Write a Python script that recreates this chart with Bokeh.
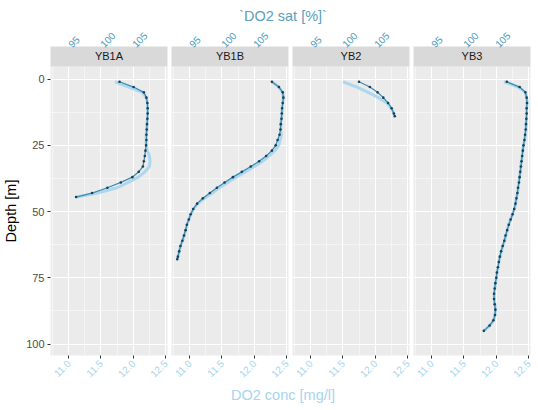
import math
from bokeh.plotting import figure
from bokeh.models import Range1d, LinearAxis, FixedTicker, PrintfTickFormatter, ColumnDataSource
from bokeh.layouts import column, row
from bokeh.embed import file_html
from bokeh.resources import INLINE
from bokeh.core.properties import value

# ---------------- data ----------------
stations = ["YB1A", "YB1B", "YB2", "YB3"]

depth_yb1a = [1, 3, 5, 7, 9, 11, 13, 15, 17, 19, 21, 23, 25, 27, 29, 31, 33, 35, 37, 39, 41, 43, 44.5]
sat_yb1a = [102.8, 105.0, 106.6, 107.0, 107.15, 107.2, 107.2, 107.15, 107.1, 107.05, 107.0, 107.0,
            106.95, 106.85, 106.75, 106.6, 106.45, 105.8, 104.8, 103.0, 100.9, 98.5, 96.0]
conc_yb1a = [11.72, 11.93, 12.14, 12.20, 12.22, 12.22, 12.22, 12.22, 12.21, 12.21, 12.20, 12.20,
             12.20, 12.22, 12.25, 12.26, 12.25, 12.18, 12.08, 11.92, 11.75, 11.45, 11.12]

depth_yb1b = [1, 3, 5, 7, 9, 11, 13, 15, 17, 19, 21, 23, 25, 27, 29, 31, 33, 35, 37, 39, 41, 43,
              45, 47, 49, 51, 53, 55, 57, 59, 61, 63, 65, 67, 68]
sat_yb1b = [107.7, 108.8, 109.4, 109.5, 109.4, 109.3, 109.25, 109.2, 109.1, 109.05, 108.9, 108.6,
            108.3, 107.7, 106.8, 105.7, 104.4, 103.0, 101.6, 100.3, 99.1, 98.0, 96.9, 96.0, 95.4,
            95.0, 94.7, 94.4, 94.2, 93.95, 93.7, 93.4, 93.2, 93.0, 92.9]
conc_yb1b = [12.27, 12.38, 12.44, 12.45, 12.44, 12.43, 12.43, 12.42, 12.41, 12.41, 12.42, 12.40,
             12.38, 12.32, 12.23, 12.13, 12.00, 11.86, 11.72, 11.59, 11.46, 11.35, 11.23, 11.13,
             11.06, 11.02, 10.99, 10.96, 10.94, 10.92, 10.89, 10.86, 10.84, 10.82, 10.81]

depth_yb2 = [1, 3, 5, 7, 9, 11, 13, 14]
sat_yb2 = [102.4, 104.1, 105.3, 106.2, 106.95, 107.5, 107.85, 108.0]
conc_yb2 = [11.50, 11.72, 11.89, 12.05, 12.18, 12.25, 12.29, 12.30]

depth_yb3 = [1, 3, 5, 7, 9, 11, 13, 15, 17, 19, 21, 23, 25, 27, 29, 31, 33, 35, 37, 39, 41, 43,
             45, 47, 49, 51, 53, 55, 57, 59, 61, 63, 65, 67, 69, 71, 73, 75, 77, 79, 81, 83, 85,
             87, 89, 91, 93, 95]
sat_yb3 = [106.6, 108.6, 109.5, 109.7, 109.75, 109.7, 109.7, 109.65, 109.6, 109.55, 109.45, 109.35,
           109.2, 109.1, 109.0, 108.9, 108.8, 108.7, 108.6, 108.5, 108.35, 108.25, 108.1, 107.95,
           107.75, 107.5, 107.2, 106.9, 106.65, 106.4, 106.2, 105.95, 105.7, 105.5, 105.35, 105.2,
           105.05, 104.95, 104.8, 104.7, 104.6, 104.6, 104.7, 104.8, 104.75, 104.5, 103.9, 103.0]
conc_yb3 = [12.12, 12.34, 12.45, 12.47, 12.48, 12.47, 12.47, 12.47, 12.46, 12.46, 12.45, 12.44,
            12.42, 12.41, 12.40, 12.39, 12.38, 12.37, 12.36, 12.35, 12.34, 12.33, 12.31, 12.30,
            12.28, 12.25, 12.22, 12.19, 12.17, 12.15, 12.13, 12.10, 12.08, 12.06, 12.04, 12.03,
            12.01, 12.00, 11.99, 11.98, 11.97, 11.97, 11.98, 11.99, 11.98, 11.96, 11.90, 11.81]

depths = [depth_yb1a, depth_yb1b, depth_yb2, depth_yb3]
sats = [sat_yb1a, sat_yb1b, sat_yb2, sat_yb3]
concs = [conc_yb1a, conc_yb1b, conc_yb2, conc_yb3]

conc_ticks = [11.0, 11.5, 12.0, 12.5]
conc_minor = [10.75, 11.25, 11.75, 12.25]
sat_ticks = [95, 100, 105]
depth_ticks = [0, 25, 50, 75, 100]
depth_minor = [12.5, 37.5, 62.5, 87.5]

# ---------------- style ----------------
FONT = "Liberation Sans"
LIGHT = "#a6d5ee"
TEAL_TXT = "#4b9ab9"
DARK_LINE = "#3d8db0"
DARK_PT = "#1e3f52"

panels = []
for i, st in enumerate(stations):
    first = i == 0
    p = figure(frame_width=117, frame_height=289,
               x_range=Range1d(10.72, 12.53), y_range=Range1d(104.3, -4.75),
               output_backend="svg", toolbar_location=None,
               min_border_left=43 if first else 2, min_border_right=2,
               min_border_top=39, min_border_bottom=26,
               background_fill_color="#ebebeb", border_fill_color="white",
               outline_line_color=None)
    p.extra_x_ranges = {"sat": Range1d(92.0, 110.3)}

    # bottom axis (conc)
    bx = p.below[0]
    bx.ticker = FixedTicker(ticks=conc_ticks, minor_ticks=conc_minor)
    bx.formatter = PrintfTickFormatter(format="%.1f")
    bx.major_label_orientation = math.pi / 4
    bx.major_label_text_color = LIGHT
    bx.major_label_text_font = FONT
    bx.major_label_text_font_size = "10px"
    bx.axis_line_color = None
    bx.major_tick_line_color = "#333333"
    bx.major_tick_out = 3
    bx.major_tick_in = 0
    bx.minor_tick_line_color = None
    bx.major_label_standoff = 2

    # left axis
    ly = p.left[0]
    ly.ticker = FixedTicker(ticks=depth_ticks, minor_ticks=depth_minor)
    if first:
        ly.axis_label = "Depth [m]"
        ly.axis_label_text_font = FONT
        ly.axis_label_text_font_size = "14.5px"
        ly.axis_label_text_font_style = "normal"
        ly.axis_label_text_color = "#000000"
        ly.axis_label_standoff = 4
        ly.major_label_text_font = FONT
        ly.major_label_text_font_size = "11px"
        ly.major_label_text_color = "#4d4d4d"
        ly.axis_line_color = None
        ly.major_tick_line_color = "#333333"
        ly.major_tick_out = 3
        ly.major_tick_in = 0
        ly.minor_tick_line_color = None
        ly.major_label_standoff = 2
    else:
        ly.visible = False

    # strip (facet label)
    strip = LinearAxis(ticker=FixedTicker(ticks=[]), axis_label=st,
                       axis_line_color=None, major_tick_line_color=None,
                       minor_tick_line_color=None, major_tick_out=0, major_tick_in=0,
                       major_label_standoff=0, axis_label_standoff=5,
                       axis_label_text_font=FONT, axis_label_text_font_size="11px",
                       axis_label_text_font_style="normal", axis_label_text_color="#1a1a1a",
                       background_fill_color="#d9d9d9")
    p.add_layout(strip, "above")

    # top axis (sat)
    tx = LinearAxis(x_range_name="sat", ticker=FixedTicker(ticks=sat_ticks),
                    major_label_orientation=math.pi / 4,
                    major_label_text_color=TEAL_TXT, major_label_text_font=FONT,
                    major_label_text_font_size="10px",
                    axis_line_color=None, major_tick_line_color=None,
                    minor_tick_line_color=None, major_tick_out=0, major_tick_in=0,
                    major_label_standoff=1)
    p.add_layout(tx, "above")

    # grids
    p.xgrid.grid_line_color = "white"
    p.xgrid.grid_line_width = 1.1
    p.xgrid.minor_grid_line_color = "white"
    p.xgrid.minor_grid_line_width = 0.5
    p.ygrid.grid_line_color = "white"
    p.ygrid.grid_line_width = 1.1
    p.ygrid.minor_grid_line_color = "white"
    p.ygrid.minor_grid_line_width = 0.5

    src = ColumnDataSource(dict(depth=depths[i], sat=sats[i], conc=concs[i]))
    p.line("conc", "depth", source=src, line_color=LIGHT, line_width=3, line_alpha=0.9)
    p.line("sat", "depth", source=src, x_range_name="sat", line_color=DARK_LINE, line_width=1.3)
    p.scatter("sat", "depth", source=src, x_range_name="sat", size=2.6,
              fill_color=DARK_PT, line_color=None)
    panels.append(p)

W = 525
TOP_H = 25
top = figure(width=W, height=TOP_H, x_range=Range1d(0, W), y_range=Range1d(0, TOP_H),
             output_backend="svg", toolbar_location=None, min_border=0,
             outline_line_color=None)
top.axis.visible = False
top.grid.visible = False
top.text(x=[282.5], y=[9.5], text=["`DO2 sat [%]`"], text_align="center",
         text_baseline="middle", text_font=value(FONT), text_font_size="14.5px",
         text_color="#5aa0bd")

BOT_H = 20
bot = figure(width=W, height=BOT_H, x_range=Range1d(0, W), y_range=Range1d(0, BOT_H),
             output_backend="svg", toolbar_location=None, min_border=0,
             outline_line_color=None)
bot.axis.visible = False
bot.grid.visible = False
bot.text(x=[282.5], y=[9], text=["DO2 conc [mg/l]"], text_align="center",
         text_baseline="middle", text_font=value(FONT), text_font_size="14.5px",
         text_color=LIGHT)

layout = column(top, row(*panels), bot)
open("out.html", "w").write(file_html(layout, INLINE))
